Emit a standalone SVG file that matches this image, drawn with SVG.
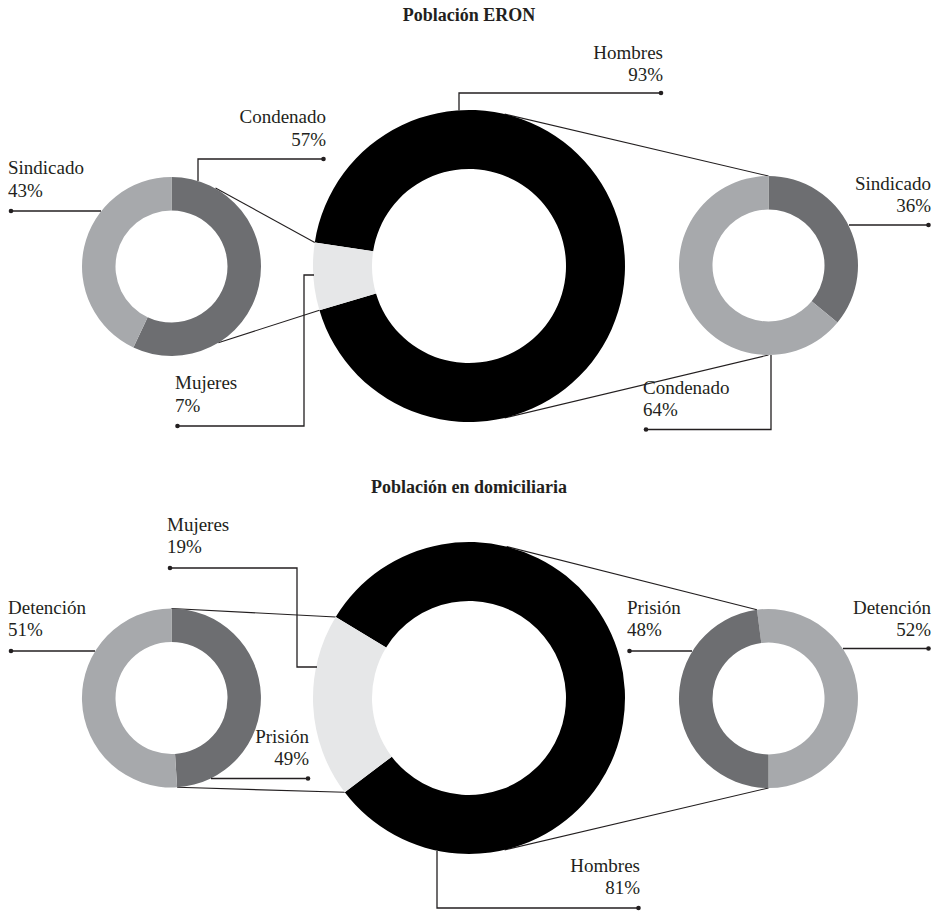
<svg xmlns="http://www.w3.org/2000/svg" width="937" height="911" viewBox="0 0 937 911">
<style>
  text { font-family: "Liberation Serif", "Times New Roman", serif; font-size: 19px; fill: #231f20; }
  .title { font-size: 18px; font-weight: bold; text-anchor: middle; }
  .end { text-anchor: end; }
  .black { fill: #000000; }
  .light { fill: #e6e7e8; }
  .mid { fill: #a7a9ac; }
  .dark { fill: #6d6e71; }
  .conn { stroke: #231f20; stroke-width: 1.1; fill: none; }
  .leader { stroke: #231f20; stroke-width: 1.3; fill: none; }
  .dot { fill: #231f20; }
</style>
<rect width="937" height="911" fill="#ffffff"/>

<g id="connectors">
  <line class="conn" x1="215.5" y1="188" x2="314.79" y2="242.4"/>
  <line class="conn" x1="218.3" y1="342.7" x2="319.43" y2="310.3"/>
  <line class="conn" x1="504.6" y1="114.1" x2="768.5" y2="176"/>
  <line class="conn" x1="504.6" y1="417.9" x2="768.5" y2="355"/>
  <line class="conn" x1="171.5" y1="608.5" x2="335.7" y2="616.96"/>
  <line class="conn" x1="177.12" y1="787.32" x2="344.75" y2="792.32"/>
  <line class="conn" x1="506.7" y1="546.6" x2="756.97" y2="609.74"/>
  <line class="conn" x1="504.6" y1="849.9" x2="768.5" y2="788"/>
</g>

<g id="eron-total">
  <path class="black" d="M 314.79 242.4 A 156 156 0 1 1 319.43 310.3 L 376 293.55 A 97 97 0 1 0 373.12 251.32 Z"/>
  <path class="light" d="M 319.43 310.3 A 156 156 0 0 1 314.79 242.4 L 373.12 251.32 A 97 97 0 0 0 376 293.55 Z"/>
</g>
<g id="eron-mujeres">
  <path class="dark" d="M 171.5 177 A 89.5 89.5 0 1 1 133.39 347.48 L 147.66 317.17 A 56 56 0 1 0 171.5 210.5 Z"/>
  <path class="mid" d="M 133.39 347.48 A 89.5 89.5 0 0 1 171.5 177 L 171.5 210.5 A 56 56 0 0 0 147.66 317.17 Z"/>
</g>
<g id="eron-hombres">
  <path class="dark" d="M 768.5 176 A 89.5 89.5 0 0 1 837.46 322.55 L 811.65 301.19 A 56 56 0 0 0 768.5 209.5 Z"/>
  <path class="mid" d="M 837.46 322.55 A 89.5 89.5 0 1 1 768.5 176 L 768.5 209.5 A 56 56 0 1 0 811.65 301.19 Z"/>
</g>

<g id="dom-total">
  <path class="black" d="M 335.7 616.96 A 156 156 0 1 1 344.75 792.32 L 391.74 756.65 A 97 97 0 1 0 386.11 647.61 Z"/>
  <path class="light" d="M 344.75 792.32 A 156 156 0 0 1 335.7 616.96 L 386.11 647.61 A 97 97 0 0 0 391.74 756.65 Z"/>
</g>
<g id="dom-mujeres">
  <path class="dark" d="M 171.5 608.5 A 89.5 89.5 0 0 1 177.12 787.32 L 175.02 753.89 A 56 56 0 0 0 171.5 642 Z"/>
  <path class="mid" d="M 177.12 787.32 A 89.5 89.5 0 1 1 171.5 608.5 L 171.5 642 A 56 56 0 1 0 175.02 753.89 Z"/>
</g>
<g id="dom-hombres">
  <path class="mid" d="M 756.97 609.74 A 89.5 89.5 0 1 1 768.5 788 L 768.5 754.5 A 56 56 0 1 0 761.29 642.97 Z"/>
  <path class="dark" d="M 768.5 788 A 89.5 89.5 0 0 1 756.97 609.74 L 761.29 642.97 A 56 56 0 0 0 768.5 754.5 Z"/>
</g>

<g id="titles">
  <text class="title" x="469" y="21">Población ERON</text>
  <text class="title" x="469" y="493">Población en domiciliaria</text>
</g>

<g id="label-eron-hombres">
  <path class="leader" d="M 661 93 H 459 V 110.5"/>
  <circle class="dot" cx="661" cy="93" r="2.3"/>
  <text class="end" x="663" y="58.5">Hombres</text>
  <text class="end" x="663" y="81">93%</text>
</g>
<g id="label-eron-mujeres">
  <path class="leader" d="M 177.5 426 H 304 V 275 H 314"/>
  <circle class="dot" cx="177.5" cy="426" r="2.3"/>
  <text x="175" y="389">Mujeres</text>
  <text x="175" y="412">7%</text>
</g>
<g id="label-eron-m-condenado">
  <path class="leader" d="M 323.5 159 H 198 V 181"/>
  <circle class="dot" cx="323.5" cy="159" r="2.3"/>
  <text class="end" x="326" y="123">Condenado</text>
  <text class="end" x="326" y="145.5">57%</text>
</g>
<g id="label-eron-m-sindicado">
  <path class="leader" d="M 11 211 H 101"/>
  <circle class="dot" cx="11" cy="211" r="2.3"/>
  <text x="8" y="174">Sindicado</text>
  <text x="8" y="196.5">43%</text>
</g>
<g id="label-eron-h-sindicado">
  <path class="leader" d="M 928.5 225 H 849"/>
  <circle class="dot" cx="928.5" cy="225" r="2.3"/>
  <text class="end" x="931" y="189.5">Sindicado</text>
  <text class="end" x="931" y="211.5">36%</text>
</g>
<g id="label-eron-h-condenado">
  <path class="leader" d="M 646 429.5 H 771 V 355"/>
  <circle class="dot" cx="646" cy="429.5" r="2.3"/>
  <text x="643" y="394">Condenado</text>
  <text x="643" y="416">64%</text>
</g>

<g id="label-dom-mujeres">
  <path class="leader" d="M 170 568 H 297 V 667 H 317"/>
  <circle class="dot" cx="170" cy="568" r="2.3"/>
  <text x="167" y="530.5">Mujeres</text>
  <text x="167" y="552.5">19%</text>
</g>
<g id="label-dom-m-detencion">
  <path class="leader" d="M 11 651 H 95"/>
  <circle class="dot" cx="11" cy="651" r="2.3"/>
  <text x="8" y="614">Detención</text>
  <text x="8" y="635.5">51%</text>
</g>
<g id="label-dom-m-prision">
  <path class="leader" d="M 308 778.5 H 211"/>
  <circle class="dot" cx="308" cy="778.5" r="2.3"/>
  <text class="end" x="309" y="743">Prisión</text>
  <text class="end" x="309" y="765">49%</text>
</g>
<g id="label-dom-h-prision">
  <path class="leader" d="M 629.5 651 H 692"/>
  <circle class="dot" cx="629.5" cy="651" r="2.3"/>
  <text x="627" y="614">Prisión</text>
  <text x="627" y="635.5">48%</text>
</g>
<g id="label-dom-h-detencion">
  <path class="leader" d="M 928.5 648.5 H 843"/>
  <circle class="dot" cx="928.5" cy="648.5" r="2.3"/>
  <text class="end" x="931" y="614">Detención</text>
  <text class="end" x="931" y="635.5">52%</text>
</g>
<g id="label-dom-hombres">
  <path class="leader" d="M 638.5 908 H 437 V 851"/>
  <circle class="dot" cx="638.5" cy="908" r="2.3"/>
  <text class="end" x="640" y="872">Hombres</text>
  <text class="end" x="640" y="894">81%</text>
</g>
</svg>
